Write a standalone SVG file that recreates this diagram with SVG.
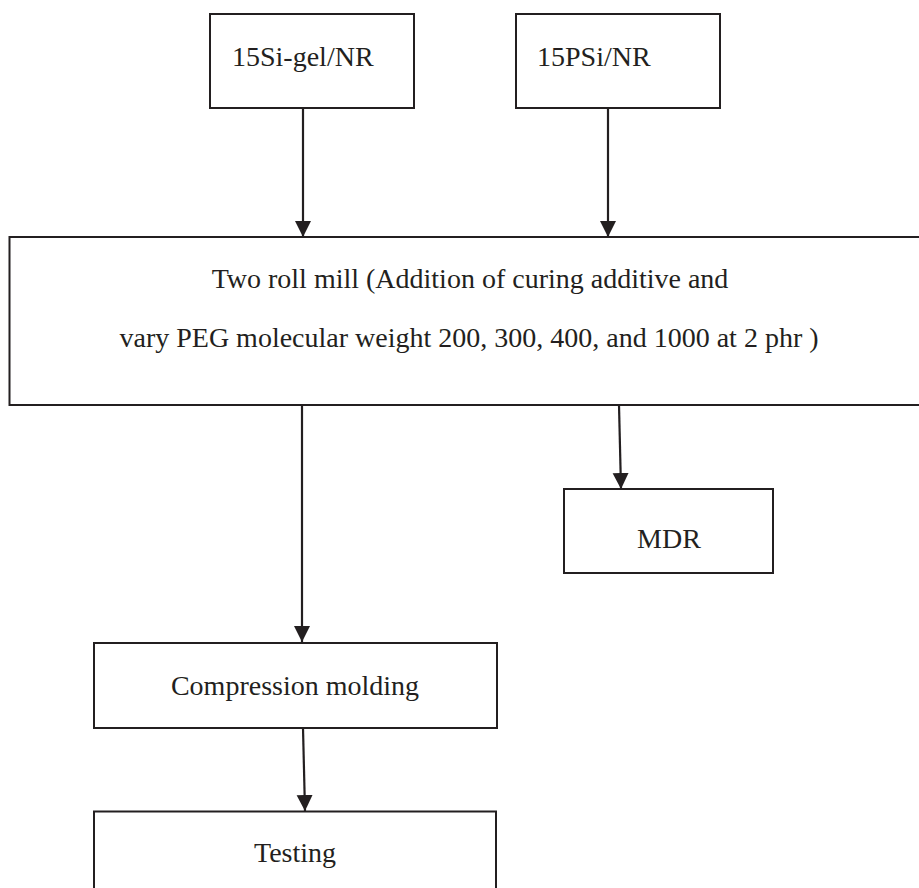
<svg xmlns="http://www.w3.org/2000/svg" width="919" height="888" viewBox="0 0 919 888">
  <style>
    .box { fill: #ffffff; stroke: #231f20; stroke-width: 2; }
    .lbl { font-family: "Liberation Serif", "Times New Roman", serif; font-size: 28px; fill: #231f20; }
    .mid { text-anchor: middle; }
    .edge { fill: none; stroke: #231f20; stroke-width: 2.2; marker-end: url(#head); }
  </style>
  <defs>
    <marker id="head" markerUnits="userSpaceOnUse" markerWidth="18" markerHeight="18" viewBox="0 0 18 18" refX="16" refY="9" orient="auto">
      <path d="M0,1 L16,9 L0,17 Z" fill="#231f20"/>
    </marker>
  </defs>
  <rect width="919" height="888" fill="#ffffff"/>

  <g id="si-gel">
    <rect class="box" x="210" y="14" width="204" height="94"/>
    <text class="lbl" x="232" y="66">15Si-gel/NR</text>
  </g>

  <g id="psi">
    <rect class="box" x="516" y="14" width="204" height="94"/>
    <text class="lbl" x="537" y="66">15PSi/NR</text>
  </g>

  <g id="two-roll-mill">
    <rect class="box" x="9.5" y="237" width="920" height="168"/>
    <text class="lbl mid" x="470" y="288">Two roll mill (Addition of curing additive and</text>
    <text class="lbl mid" x="469" y="347">vary PEG molecular weight 200, 300, 400, and 1000 at 2 phr )</text>
  </g>

  <g id="mdr">
    <rect class="box" x="564" y="489" width="209" height="84"/>
    <text class="lbl mid" x="669" y="548">MDR</text>
  </g>

  <g id="compression">
    <rect class="box" x="94" y="643" width="403" height="85"/>
    <text class="lbl mid" x="295" y="695">Compression molding</text>
  </g>

  <g id="testing">
    <rect class="box" x="94" y="811.5" width="402" height="90"/>
    <text class="lbl mid" x="295" y="862">Testing</text>
  </g>

  <g id="connectors">
    <path class="edge" d="M303,108 L303,237"/>
    <path class="edge" d="M608,108 L608,237"/>
    <path class="edge" d="M619,405 L621,489"/>
    <path class="edge" d="M302,405 L302,642"/>
    <path class="edge" d="M303,728 L305,811"/>
  </g>
</svg>
